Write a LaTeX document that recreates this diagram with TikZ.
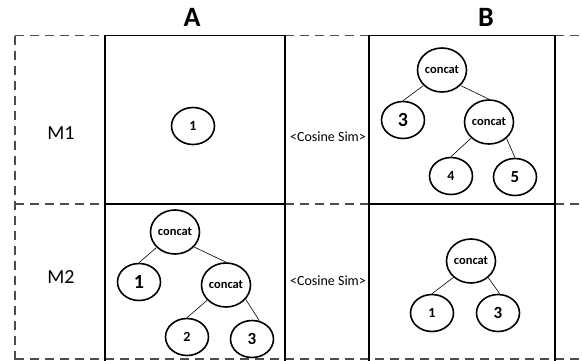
\documentclass[tikz,border=0pt]{standalone}
\usepackage{fontspec}
\setmainfont{Carlito}
\usetikzlibrary{shapes.geometric}
\begin{document}
\begin{tikzpicture}[x=1pt,y=-1pt,
  dline/.style={draw=black!70,line width=1.1pt,dash pattern=on 9pt off 6pt},
  boxline/.style={draw=black,line width=1.7pt},
  tnode/.style={ellipse,draw=black,line width=1.6pt,inner sep=0pt,minimum width=43pt,minimum height=37pt},
  cnode/.style={tnode,minimum width=49pt,minimum height=44pt,font=\fontsize{12.5}{14}\selectfont\bfseries},
  small/.style={font=\fontsize{14}{16}\selectfont\bfseries},
  mid/.style={font=\fontsize{17}{19}\selectfont\bfseries},
  big/.style={font=\fontsize{20}{22}\selectfont\bfseries},
  edge/.style={draw=black,line width=0.6pt},
  lbl/.style={font=\fontsize{20}{22}\selectfont},
  sim/.style={font=\fontsize{14}{16}\selectfont,inner sep=0pt}]
\useasboundingbox (0,0) rectangle (582,360);
% dashed grid
\coordinate (t0) at (15,35.5); \coordinate (t1) at (582,35.5);
\coordinate (m0) at (15,204); \coordinate (m1) at (582,204);
\coordinate (b0) at (15,359); \coordinate (b1) at (582,359);
\coordinate (l1) at (15,360);
\draw[dline] (t0) -- (t1);
\draw[dline] (m0) -- (m1);
\draw[dline] (b0) -- (b1);
\draw[dline] (t0) -- (l1);
% boxes
\coordinate (a0) at (105,35.5); \coordinate (a1) at (285,35.5);
\coordinate (a2) at (105,361); \coordinate (a3) at (285,361);
\coordinate (am0) at (105,204); \coordinate (am1) at (285,204);
\draw[boxline] (a2) -- (a0) -- (a1) -- (a3);
\draw[boxline] (am0) -- (am1);
\coordinate (bb0) at (369,35.5); \coordinate (bb1) at (555,35.5);
\coordinate (bb2) at (369,361); \coordinate (bb3) at (555,361);
\coordinate (bm0) at (369,204); \coordinate (bm1) at (555,204);
\draw[boxline] (bb2) -- (bb0) -- (bb1) -- (bb3);
\draw[boxline] (bm0) -- (bm1);
% headers
\node[font=\fontsize{28}{30}\selectfont\bfseries] (hA) at (192,17) {A};
\node[font=\fontsize{28}{30}\selectfont\bfseries] (hB) at (486,17) {B};
\node[lbl] (M1) at (61,133) {M1};
\node[lbl] (M2) at (61,277) {M2};
\node[sim] (s1) at (328,137) {<Cosine Sim>};
\node[sim] (s2) at (328,281) {<Cosine Sim>};
% M1 A
\node[tnode,small] (n1) at (193,126) {1};
% M1 B
\node[cnode] (c1) at (442,70) {concat};
\node[tnode,big] (b3) at (403,120) {3};
\node[cnode] (c2) at (489,122) {concat};
\node[tnode,small] (b4) at (451,176) {4};
\node[tnode,mid] (b5) at (515,177) {5};
\draw[edge] (c1.220) -- (b3.north);
\draw[edge] (c1.320) -- (c2.north);
\draw[edge] (c2.222) -- (b4.north);
\draw[edge] (c2.317) -- (b5.north);
% M2 A
\node[cnode] (c3) at (175,232) {concat};
\node[tnode,big] (a1n) at (139,282) {1};
\node[cnode] (c4) at (226,285) {concat};
\node[tnode,small] (a2n) at (187,337) {2};
\node[tnode,mid] (a3n) at (252,339) {3};
\draw[edge] (c3.220) -- (a1n.north);
\draw[edge] (c3.322) -- (c4.north);
\draw[edge] (c4.219) -- (a2n.north);
\draw[edge] (c4.324) -- (a3n.68);
% M2 B
\node[cnode] (c5) at (471,261) {concat};
\node[tnode,small] (d1) at (432,313) {1};
\node[tnode,mid] (d3) at (498,313) {3};
\draw[edge] (c5.223) -- (d1.north);
\draw[edge] (c5.316) -- (d3.85);
\end{tikzpicture}
\end{document}
